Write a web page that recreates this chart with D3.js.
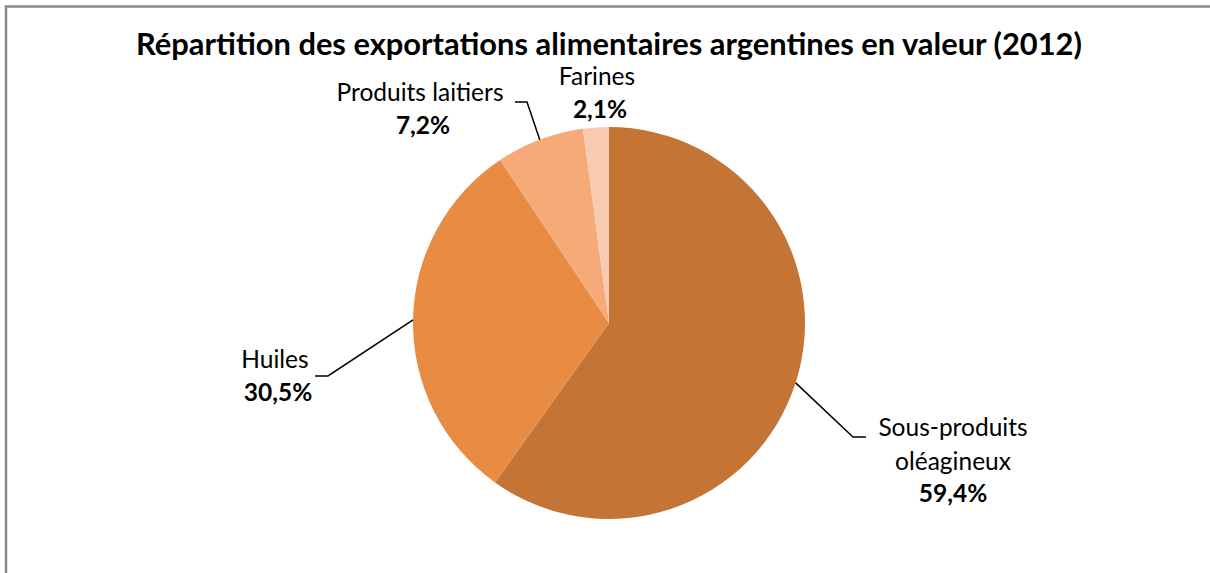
<!DOCTYPE html>
<html>
<head>
<meta charset="utf-8">
<script src="https://cdn.jsdelivr.net/npm/d3@7"></script>
<style>
  body { margin: 0; background: #fff; }
  svg text { font-family: Lato, "Open Sans", sans-serif; fill: #000; }
</style>
</head>
<body>
<div class="chart"></div>
<script>
const width = 1210
const height = 573

// data
const categories = ["Sous-produits oléagineux", "Huiles", "Produits laitiers", "Farines"]
const values = [59.4, 30.5, 7.2, 2.1]
const valueLabels = ["59,4%", "30,5%", "7,2%", "2,1%"]
const colors = ["#c47535", "#e88c43", "#f6aa78", "#f8cab1"]

const title = "Répartition des exportations alimentaires argentines en valeur (2012)"

const cx = 609, cy = 323, radius = 196

// label placement: name lines, anchor, leader elbow (page px)
const labelLayout = [
    { lines: ["Sous-produits", "oléagineux"], x: 953, y: 436, elbow: [[853, 437], [866, 437]] },
    { lines: ["Huiles"], x: 275, y: 368, elbow: [[328, 376], [315, 376]] },
    { lines: ["Produits laitiers"], x: 420, y: 101, elbow: [[527, 102], [515, 102]] },
    { lines: ["Farines"], x: 597, y: 85, elbow: null }
]

const svg = d3.select(".chart")
    .append("svg")
    .attr("width", width)
    .attr("height", height)

// frame
svg.append("path")
    .attr("d", `M6,${height} L6,6.5 L${width},6.5`)
    .attr("fill", "none")
    .attr("stroke", "#888")
    .attr("stroke-width", 2.5)

const titleText = svg.append("text")
    .attr("x", cx)
    .attr("y", 55)
    .attr("text-anchor", "middle")
    .style("font-weight", "700")
    .style("font-size", "22px")
    .text(title)

// fit title width to the reference
const tw = titleText.node().getComputedTextLength()
titleText.style("font-size", (22 * 946 / tw) + "px")

const pie = d3.pie().sort(null).value(d => d)
const arcs = pie(values)

const arc = d3.arc().innerRadius(0).outerRadius(radius)

const g = svg.append("g")
    .attr("transform", `translate(${cx}, ${cy})`)

g.selectAll("path.slice")
    .data(arcs)
    .enter().append("path")
        .attr("class", "slice")
        .attr("d", arc)
        .attr("fill", (d, i) => colors[i])

// leader lines start at the arc edge, at the slice mid angle
const edgePoint = d => {
    const a = (d.startAngle + d.endAngle) / 2
    return [cx + radius * Math.sin(a), cy - radius * Math.cos(a)]
}

arcs.forEach((d, i) => {
    const lay = labelLayout[i]
    if (lay.elbow) {
        const pts = [edgePoint(d), ...lay.elbow]
        svg.append("path")
            .attr("d", d3.line()(pts))
            .attr("fill", "none")
            .attr("stroke", "#000")
            .attr("stroke-width", 1.5)
    }
    const t = svg.append("text")
        .attr("text-anchor", "middle")
        .attr("x", lay.x)
        .attr("y", lay.y)
        .style("font-size", "24.5px")
    lay.lines.forEach((ln, k) => {
        t.append("tspan")
            .attr("x", lay.x)
            .attr("dy", k === 0 ? 0 : 34)
            .text(ln)
    })
    t.append("tspan")
        .attr("x", lay.x + (i === 0 ? 0 : 3))
        .attr("dy", lay.lines.length === 1 ? 33 : 32)
        .style("font-weight", "700")
        .text(valueLabels[i])
})
</script>
</body>
</html>
